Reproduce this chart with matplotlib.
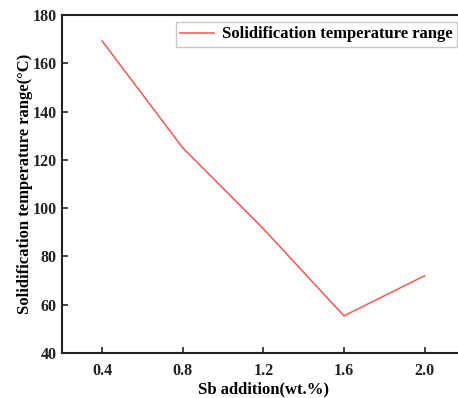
import matplotlib
matplotlib.use('Agg')
import matplotlib.pyplot as plt

# Sb addition (wt.%) vs solidification temperature range
sb_addition = [0.4, 0.8, 1.2, 1.6, 2.0]
temp_range = [169.3, 125.0, 91.5, 55.4, 72.0]

plt.rcParams['font.family'] = ['Liberation Serif', 'DejaVu Serif']
plt.rcParams['font.weight'] = 'bold'

fig = plt.figure(figsize=(4.58, 3.98), dpi=100)
ax = fig.add_axes([0.135, 0.113, 0.88, 0.849])

ax.plot(sb_addition, temp_range, color='#f0645a', lw=1.2,
        label='Solidification temperature range')

ax.set_xlim(0.2, 2.2)
ax.set_ylim(40, 180)
ax.set_xticks([0.4, 0.8, 1.2, 1.6, 2.0])
ax.set_xticklabels(['0.4', '0.8', '1.2', '1.6', '2.0'])
ax.set_yticks(range(40, 181, 20))
ax.tick_params(direction='in', length=4, width=1.2, labelsize=11.5, colors='#222222')
ax.tick_params(axis='x', pad=7)
for s in ax.spines.values():
    s.set_linewidth(1.5)
    s.set_color('#222222')

ax.set_xlabel('Sb addition(wt.%)', fontsize=12, fontweight='bold', labelpad=2)
ax.set_ylabel('Solidification temperature range(\u00b0C)', fontsize=12,
              fontweight='bold', labelpad=0)

leg = ax.legend(loc='upper right', bbox_to_anchor=(0.98, 0.979), borderaxespad=0,
                fontsize=12, fancybox=False, edgecolor='#bbbbbb', handlelength=2.0,
                borderpad=0.25, handletextpad=0.5)
leg.get_frame().set_linewidth(1.0)

fig.savefig('out.png', dpi=100)
